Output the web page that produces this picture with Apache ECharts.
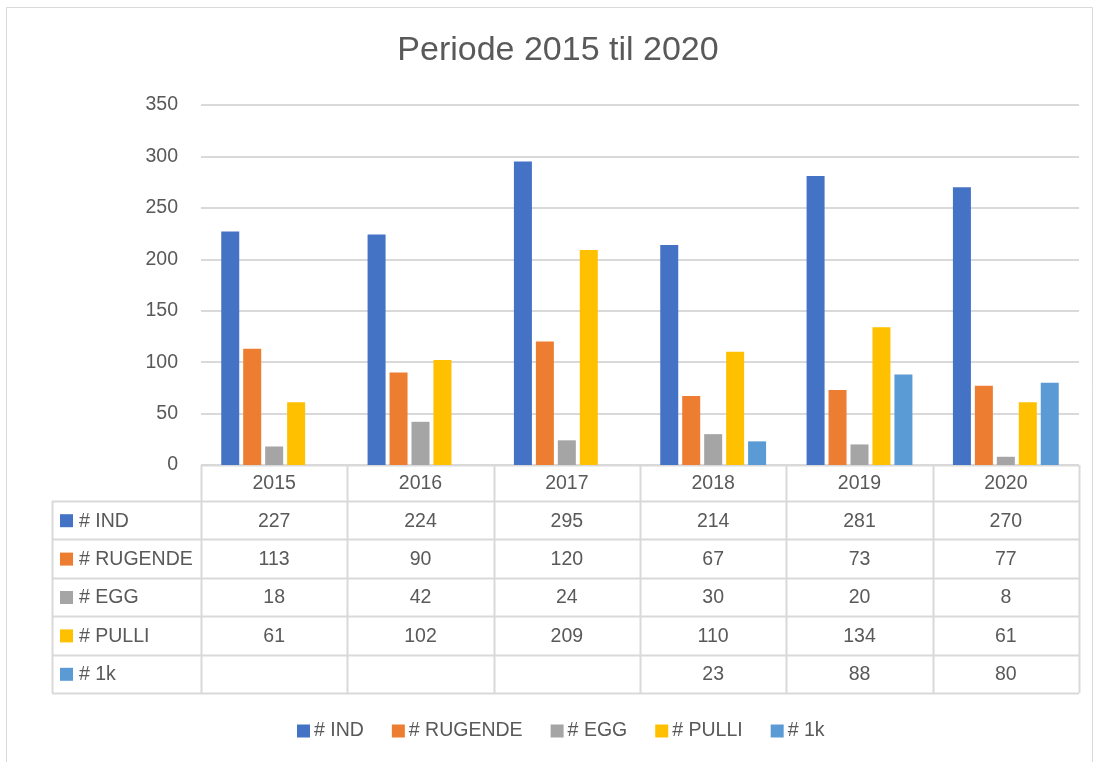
<!DOCTYPE html>
<html>
<head>
<meta charset="utf-8">
<script src="https://cdn.jsdelivr.net/npm/echarts@6/dist/echarts.min.js"></script>
<style>
html,body{margin:0;padding:0;background:#fff;}
#chart{width:1095px;height:762px;}
</style>
</head>
<body>
<div id="chart"></div>
<script>
const categories = ['2015','2016','2017','2018','2019','2020'];
const seriesNames = ['# IND','# RUGENDE','# EGG','# PULLI','# 1k'];
const ind = [227,224,295,214,281,270];
const rugende = [113,90,120,67,73,77];
const egg = [18,42,24,30,20,8];
const pulli = [61,102,209,110,134,61];
const oneK = [null,null,null,23,88,80];
const yTicks = [0,50,100,150,200,250,300,350];
const colors = ['#4472C4','#ED7D31','#A5A5A5','#FFC000','#5B9BD5'];

const allSeries = [ind, rugende, egg, pulli, oneK];
const W = 1095, H = 762;
const gridLeft = 201, gridRight = 16, gridTop = 105, gridBottom = 297;
const plotRight = W - gridRight, plotBottom = H - gridBottom;
const tableLeft = 52;
const headerH = 36;
const rowH = 38.4;
const font = '"Liberation Sans", Arial, sans-serif';
const fs = 19.5;
const textColor = '#595959';
const lineColor = '#D9D9D9';

const chart = echarts.init(document.getElementById('chart'), null, {renderer:'canvas'});

function buildTable() {
  const els = [];
  const n = categories.length;
  const colW = (plotRight - gridLeft) / n;
  const tableBottom = plotBottom + headerH + rowH * seriesNames.length;
  els.push({type:'rect', shape:{x:6.5,y:7.5,width:1086,height:770}, style:{fill:null, stroke:lineColor, lineWidth:1}, silent:true});
  els.push({type:'line', shape:{x1:gridLeft, y1:plotBottom+0.5, x2:plotRight, y2:plotBottom+0.5}, style:{stroke:lineColor, lineWidth:2}});
  for (let r = 0; r <= seriesNames.length; r++) {
    const y = Math.round(plotBottom + headerH + r*rowH) + 0.5;
    els.push({type:'line', shape:{x1:tableLeft, y1:y, x2:plotRight, y2:y}, style:{stroke:lineColor, lineWidth:2}});
  }
  els.push({type:'line', shape:{x1:tableLeft+0.5, y1:plotBottom+headerH, x2:tableLeft+0.5, y2:tableBottom}, style:{stroke:lineColor, lineWidth:2}});
  for (let c = 0; c <= n; c++) {
    const x = Math.round(gridLeft + c*colW) + 0.5;
    els.push({type:'line', shape:{x1:x, y1:plotBottom, x2:x, y2:tableBottom}, style:{stroke:lineColor, lineWidth:2}});
  }
  categories.forEach((cat, c) => {
    els.push({type:'text', x: gridLeft + (c+0.5)*colW, y: plotBottom + headerH/2 + 1,
      style:{text:cat, fill:textColor, font:fs + 'px ' + font, align:'center', verticalAlign:'middle'}});
  });
  seriesNames.forEach((name, r) => {
    const yc = plotBottom + headerH + (r+0.5)*rowH + 1;
    els.push({type:'rect', shape:{x:60, y:yc-7, width:13, height:13}, style:{fill:colors[r]}});
    els.push({type:'text', x: 79, y: yc, style:{text:name, fill:textColor, font:fs + 'px ' + font, align:'left', verticalAlign:'middle'}});
    allSeries[r].forEach((v, c) => {
      if (v === null) return;
      els.push({type:'text', x: gridLeft + (c+0.5)*colW, y: yc,
        style:{text:String(v), fill:textColor, font:fs + 'px ' + font, align:'center', verticalAlign:'middle'}});
    });
  });
  return els;
}

const option = {
  animation:false,
  backgroundColor:'#fff',
  color: colors,
  title:{
    text:'Periode 2015 til 2020', left:553, top:29, textAlign:'center',
    textStyle:{fontFamily:font, fontSize:34, fontWeight:'normal', color:textColor}
  },
  legend:{
    data: seriesNames, top: 716, left:292,
    itemWidth:13, itemHeight:13, itemGap:28,
    icon:'rect',
    textStyle:{fontFamily:font, fontSize:fs, color:textColor, padding:[0,0,0,-1]}
  },
  grid:{left:gridLeft, right:gridRight, top:gridTop, bottom:gridBottom, containLabel:false},
  xAxis:{
    type:'category', data:categories,
    axisLine:{show:false}, axisTick:{show:false}, axisLabel:{show:false}
  },
  yAxis:{
    type:'value', min:0, max:350, interval:50,
    axisLine:{show:false}, axisTick:{show:false},
    axisLabel:{fontFamily:font, fontSize:fs, color:textColor, margin:23,
      formatter: v => yTicks.includes(v) ? String(v) : ''},
    splitLine:{lineStyle:{color:lineColor, width:2}}
  },
  series: seriesNames.map((name, i) => ({
    name, type:'bar', data: allSeries[i], barWidth:18, barGap:'22%',
    itemStyle:{color:colors[i]}
  })),
  graphic: buildTable()
};
chart.setOption(option);
</script>
</body>
</html>
